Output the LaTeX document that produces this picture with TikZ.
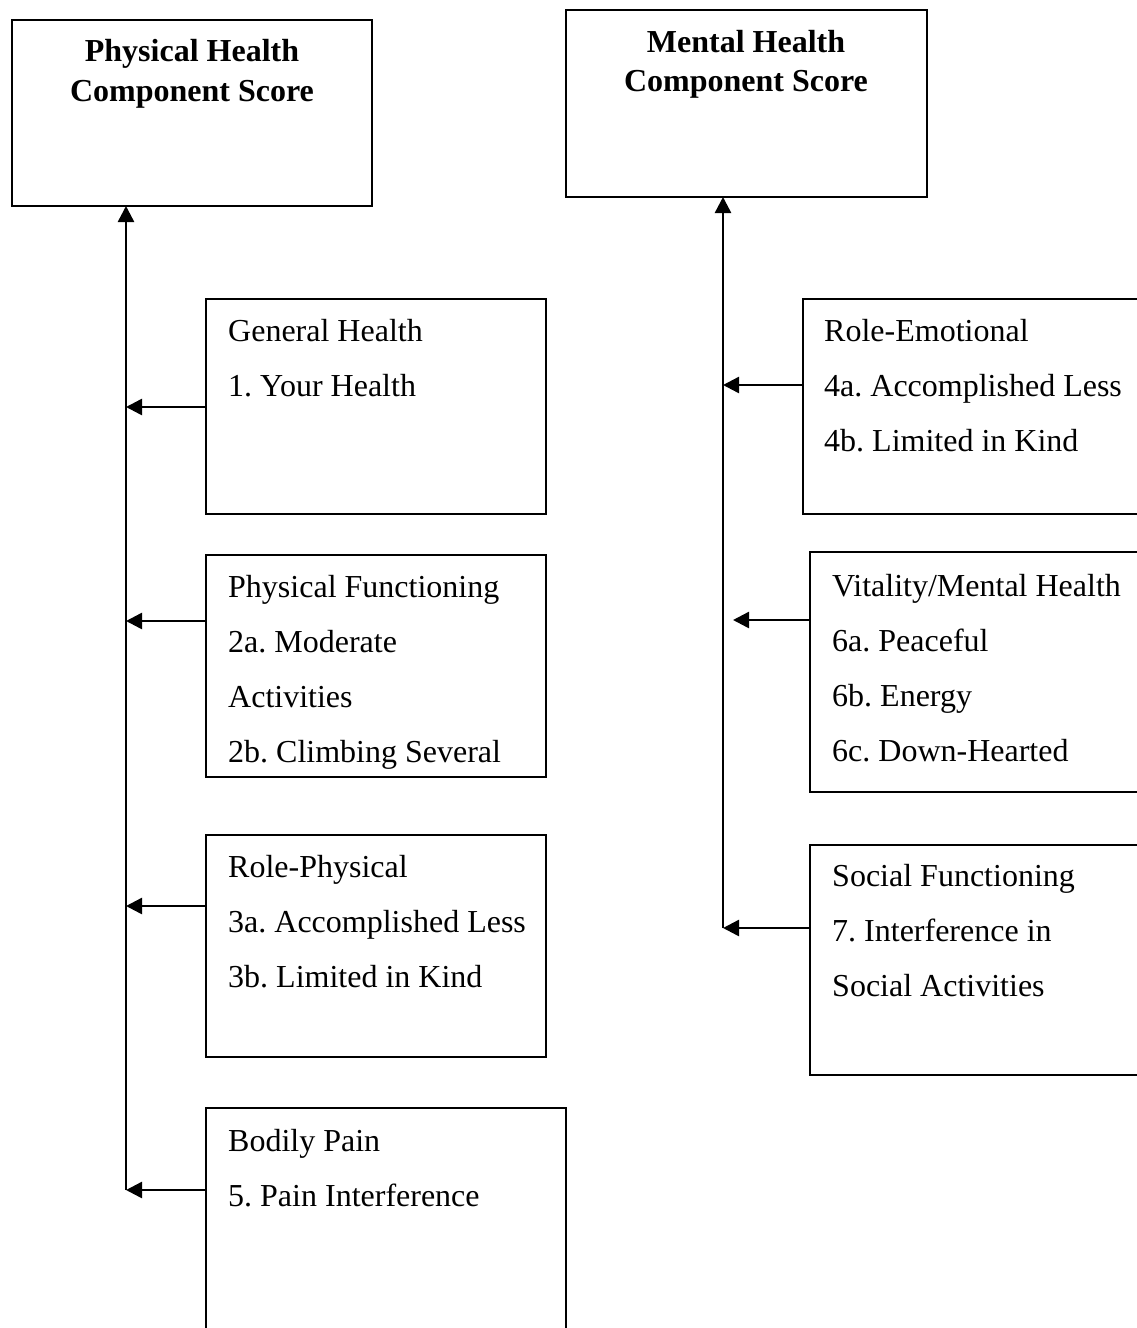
\documentclass[tikz,border=0pt]{standalone}
\usepackage{fontspec}
\setmainfont{Liberation Serif}
\usetikzlibrary{arrows.meta}
\frenchspacing
\begin{document}
\begin{tikzpicture}[x=1pt,y=-1pt,
  box/.style={draw,line width=2pt,inner sep=0pt,outer sep=0pt,anchor=north west},
  txt/.style={anchor=base west,inner sep=0pt,font=\fontsize{32}{38}\selectfont},
  ttl/.style={anchor=base,inner sep=0pt,font=\fontsize{32}{38}\selectfont\bfseries},
  conn/.style={line width=2.5pt,-{Triangle[length=16pt,width=16pt]}},
  vline/.style={line width=2.5pt}]
\useasboundingbox (0,0) rectangle (1137,1328);
\clip (0,0) rectangle (1137,1328);
% top boxes
\node[box,minimum width=360pt,minimum height=186pt] (phc) at (12,20) {};
\node[ttl] (phct1) at (192,61) {Physical Health};
\node[ttl] (phct2) at (192,101) {Component Score};
\node[box,minimum width=361pt,minimum height=187pt] (mhc) at (566,10) {};
\node[ttl] (mhct1) at (746,52) {Mental Health};
\node[ttl] (mhct2) at (746,91) {Component Score};
% left boxes
\node[box,minimum width=340pt,minimum height=215pt] (gh) at (206,299) {};
\node[txt] (gh1) at (228,341) {General Health};
\node[txt] (gh2) at (228,396) {1. Your Health};
\node[box,minimum width=340pt,minimum height=222pt] (pf) at (206,555) {};
\node[txt] (pf1) at (228,597) {Physical Functioning};
\node[txt] (pf2) at (228,652) {2a. Moderate};
\node[txt] (pf3) at (228,707) {Activities};
\node[txt] (pf4) at (228,762) {2b. Climbing Several};
\node[box,minimum width=340pt,minimum height=222pt] (rp) at (206,835) {};
\node[txt] (rp1) at (228,877) {Role-Physical};
\node[txt] (rp2) at (228,932) {3a. Accomplished Less};
\node[txt] (rp3) at (228,987) {3b. Limited in Kind};
\node[box,minimum width=360pt,minimum height=240pt] (bp) at (206,1108) {};
\node[txt] (bp1) at (228,1151) {Bodily Pain};
\node[txt] (bp2) at (228,1206) {5. Pain Interference};
% right boxes
\node[box,minimum width=360pt,minimum height=215pt] (re) at (803,299) {};
\node[txt] (re1) at (824,341) {Role-Emotional};
\node[txt] (re2) at (824,396) {4a. Accomplished Less};
\node[txt] (re3) at (824,451) {4b. Limited in Kind};
\node[box,minimum width=360pt,minimum height=240pt] (vm) at (810,552) {};
\node[txt] (vm1) at (832,596) {Vitality/Mental Health};
\node[txt] (vm2) at (832,651) {6a. Peaceful};
\node[txt] (vm3) at (832,706) {6b. Energy};
\node[txt] (vm4) at (832,761) {6c. Down-Hearted};
\node[box,minimum width=360pt,minimum height=230pt] (sf) at (810,845) {};
\node[txt] (sf1) at (832,886) {Social Functioning};
\node[txt] (sf2) at (832,941) {7. Interference in};
\node[txt] (sf3) at (832,996) {Social Activities};
% junction coordinates
\coordinate (ghj) at (126,407);
\coordinate (pfj) at (126,621);
\coordinate (rpj) at (126,906);
\coordinate (bpj) at (126,1190);
\coordinate (rej) at (723,385);
\coordinate (vmj) at (733,620);
\coordinate (sfj) at (723,928);
% connectors
\draw[conn] (bpj) -- (phc.south -| bpj);
\draw[conn] (gh.west |- ghj) -- (ghj);
\draw[conn] (pf.west |- pfj) -- (pfj);
\draw[conn] (rp.west |- rpj) -- (rpj);
\draw[conn] (bp.west |- bpj) -- (bpj);
\draw[conn] (sfj) -- (mhc.south -| sfj);
\draw[conn] (re.west |- rej) -- (rej);
\draw[conn] (vm.west |- vmj) -- (vmj);
\draw[conn] (sf.west |- sfj) -- (sfj);
\end{tikzpicture}
\end{document}
